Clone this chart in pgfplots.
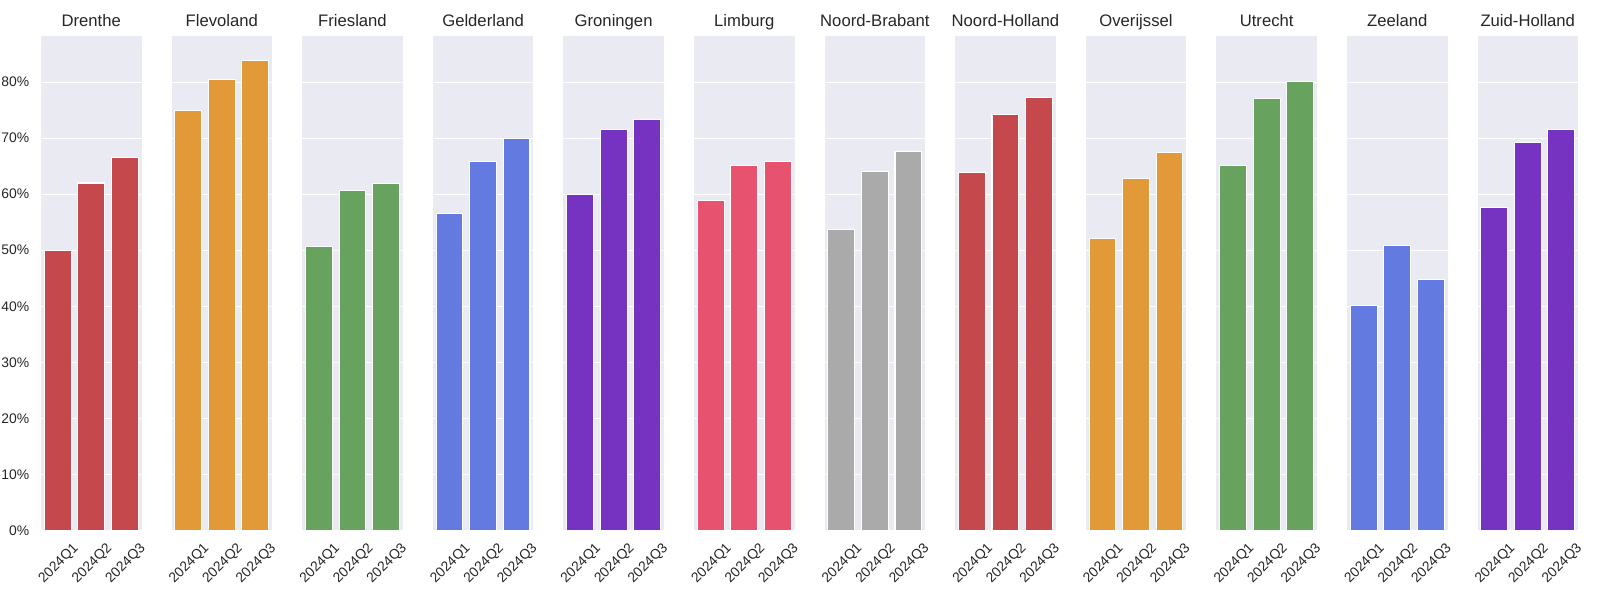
\documentclass[border=0pt]{standalone}
\usepackage{pgfplots}
\pgfplotsset{compat=1.18}
\usepackage{fontspec}
\setmainfont{Liberation Sans}
\definecolor{bgc}{RGB}{234,234,242}
\definecolor{txt}{RGB}{38,38,38}
\definecolor{cred}{RGB}{197,72,77}
\definecolor{corange}{RGB}{226,154,56}
\definecolor{cgreen}{RGB}{103,163,95}
\definecolor{cblue}{RGB}{99,123,225}
\definecolor{cpurple}{RGB}{118,51,193}
\definecolor{cpink}{RGB}{231,82,111}
\definecolor{cgray}{RGB}{170,170,170}
\pgfplotsset{
  base/.style={
    anchor=south west,
    scale only axis,
    width=72.4pt, height=356.1pt,
    xmin=-0.5, xmax=2.5, ymin=0, ymax=88.3,
    ybar, bar width=0.8,
    axis background/.style={fill=bgc},
    axis line style={draw=none},
    major tick length=0pt,
    ymajorgrids,
    grid style={white, line width=0.8pt},
    xtick={0,1,2},
    xticklabels={2024Q1,2024Q2,2024Q3},
    ytick={0,10,20,30,40,50,60,70,80},
    yticklabels={},
    xticklabel style={yshift=-24pt, xshift=0.8pt, rotate=45, anchor=center, font=\fontsize{10}{12}\selectfont, text=txt},
    yticklabel style={font=\fontsize{10}{12}\selectfont, text=txt, xshift=-5pt},
    title style={at={(0.5,1)}, anchor=base, yshift=0.5pt, font=\fontsize{12}{14}\selectfont, text=txt},
  }
}
\newcommand\panel[5]{%
\begin{axis}[base, at={(#1pt,50.2pt)}, title={#2}, #5]
\addplot[fill=#3, draw=white, line width=0.75pt] coordinates {#4};
\end{axis}}
\begin{document}
\begin{tikzpicture}
\panel{29.5}{Drenthe}{cred}{(0,49.9) (1,62.0) (2,66.5)}{yticklabels={0\%,10\%,20\%,30\%,40\%,50\%,60\%,70\%,80\%}}
\panel{123.5}{Flevoland}{corange}{(0,74.9) (1,80.4) (2,83.9)}{}
\panel{217.6}{Friesland}{cgreen}{(0,50.6) (1,60.6) (2,61.9)}{}
\panel{311.6}{Gelderland}{cblue}{(0,56.5) (1,65.8) (2,69.9)}{}
\panel{405.6}{Groningen}{cpurple}{(0,59.9) (1,71.5) (2,73.3)}{}
\panel{499.7}{Limburg}{cpink}{(0,58.8) (1,65.1) (2,65.8)}{}
\panel{593.7}{Noord-Brabant}{cgray}{(0,53.7) (1,64.0) (2,67.7)}{}
\panel{687.7}{Noord-Holland}{cred}{(0,63.8) (1,74.3) (2,77.2)}{}
\panel{781.7}{Overijssel}{corange}{(0,52.1) (1,62.8) (2,67.4)}{}
\panel{875.8}{Utrecht}{cgreen}{(0,65.1) (1,77.1) (2,80.1)}{}
\panel{969.8}{Zeeland}{cblue}{(0,40.1) (1,50.8) (2,44.8)}{}
\panel{1063.8}{Zuid-Holland}{cpurple}{(0,57.6) (1,69.3) (2,71.5)}{}
\pgfresetboundingbox
\useasboundingbox (0,0) rectangle (1152pt,432pt);
\end{tikzpicture}
\end{document}
